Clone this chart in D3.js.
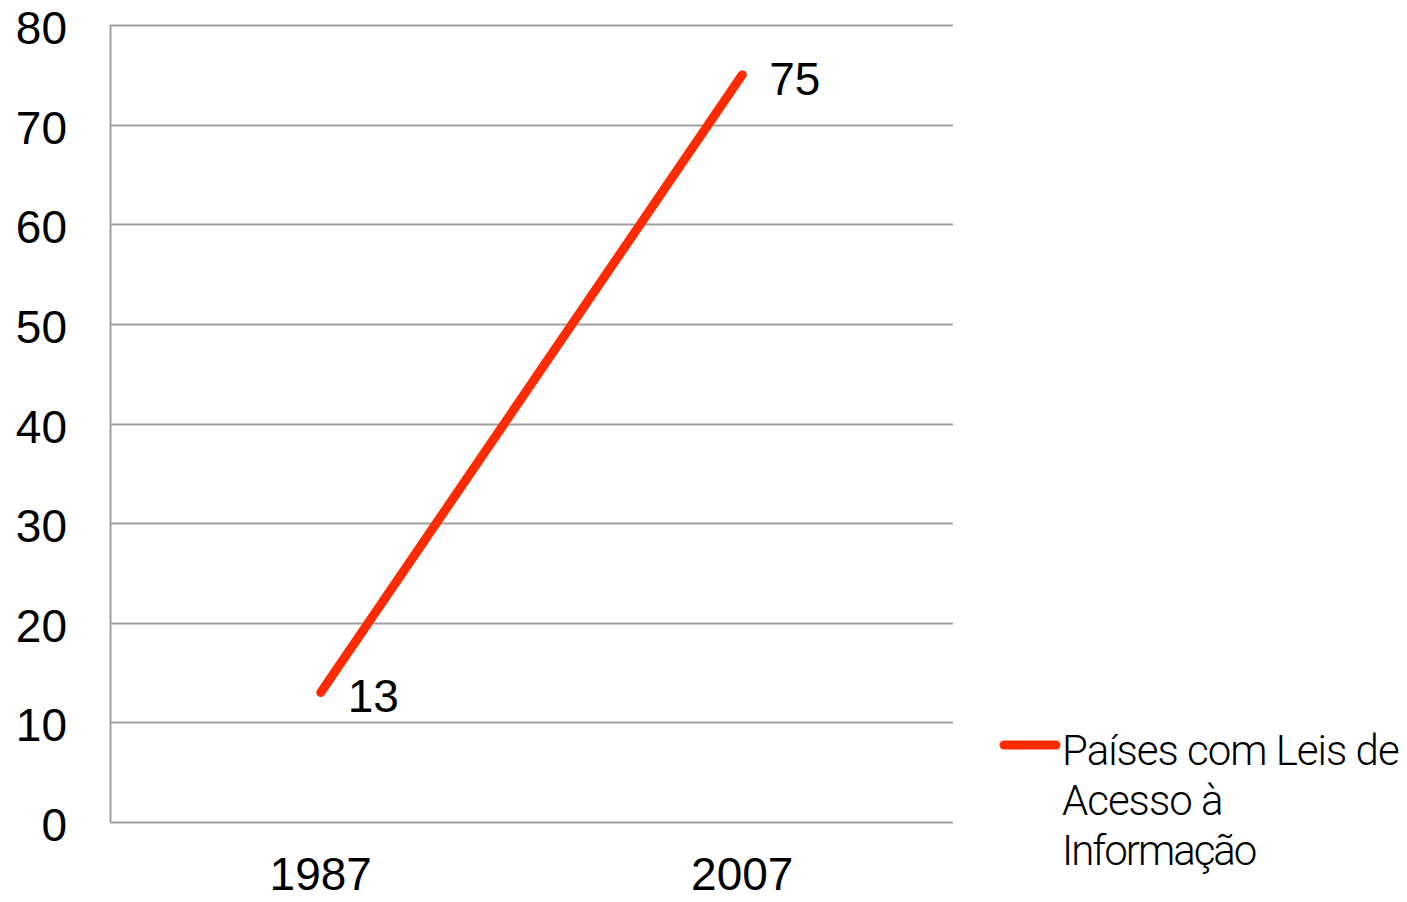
<!DOCTYPE html>
<html>
<head>
  <meta charset="utf-8">
  <title>Países com Leis de Acesso à Informação</title>
  <script src="https://cdn.jsdelivr.net/npm/d3@7/dist/d3.min.js"></script>
  <style>
    body { margin: 0; background: #fff; }
    svg { display: block; font-family: "Liberation Sans", Arial, sans-serif; }
  </style>
</head>
<body>
  <div id="container"></div>
  <script>
    const years = ["1987", "2007"];
    const values = [13, 75];
    const yTicks = [0, 10, 20, 30, 40, 50, 60, 70, 80];
    const seriesName = ["Países com Leis de", "Acesso à", "Informação"];

    const width = 1407, height = 902;
    const margin = { left: 110, right: 454, top: 25, bottom: 80 };
    const lineColor = "#ff2a00";

    const svg = d3.select("#container").append("svg")
      .attr("width", width)
      .attr("height", height);

    const x = d3.scaleBand()
      .domain(years)
      .range([margin.left, width - margin.right]);

    const y = d3.scaleLinear()
      .domain([0, 80])
      .range([height - margin.bottom, margin.top]);

    // gridlines
    svg.append("g")
      .selectAll("line")
      .data(yTicks)
      .join("line")
      .attr("x1", margin.left)
      .attr("x2", width - margin.right)
      .attr("y1", d => Math.round(y(d)) + 0.5)
      .attr("y2", d => Math.round(y(d)) + 0.5)
      .attr("stroke", "#a0a0a0")
      .attr("stroke-width", 2);

    // left axis line
    svg.append("line")
      .attr("x1", margin.left + 0.5)
      .attr("x2", margin.left + 0.5)
      .attr("y1", y(80))
      .attr("y2", y(0))
      .attr("stroke", "#a0a0a0")
      .attr("stroke-width", 2);

    // y labels
    svg.append("g")
      .selectAll("text")
      .data(yTicks)
      .join("text")
      .attr("x", 67)
      .attr("y", d => y(d) + 19)
      .attr("text-anchor", "end")
      .attr("font-size", 46)
      .attr("fill", "#000")
      .text(d => d);

    // x labels
    svg.append("g")
      .selectAll("text")
      .data(years)
      .join("text")
      .attr("x", d => x(d) + x.bandwidth() / 2)
      .attr("y", 890)
      .attr("text-anchor", "middle")
      .attr("font-size", 46)
      .attr("fill", "#000")
      .text(d => d);

    const pts = years.map((d, i) => [x(d) + x.bandwidth() / 2, y(values[i])]);

    svg.append("path")
      .attr("d", d3.line()(pts))
      .attr("fill", "none")
      .attr("stroke", lineColor)
      .attr("stroke-width", 9)
      .attr("stroke-linecap", "round");

    // data labels
    svg.append("g")
      .selectAll("text")
      .data(pts)
      .join("text")
      .attr("x", d => d[0] + 27)
      .attr("y", d => d[1] + 20)
      .attr("font-size", 46)
      .attr("fill", "#000")
      .text((d, i) => values[i]);

    // legend
    const legend = svg.append("g");
    legend.append("line")
      .attr("x1", 1004)
      .attr("x2", 1056)
      .attr("y1", 745)
      .attr("y2", 745)
      .attr("stroke", lineColor)
      .attr("stroke-width", 9)
      .attr("stroke-linecap", "round");

    legend.selectAll("text")
      .data(seriesName)
      .join("text")
      .attr("x", 1062)
      .attr("y", (d, i) => 765 + i * 50)
      .attr("font-family", "Roboto, sans-serif")
      .attr("font-weight", 300)
      .attr("font-size", 42)
      .attr("letter-spacing", (d, i) => i === 2 ? -2 : -1)
      .attr("fill", "#000")
      .text(d => d);
  </script>
</body>
</html>
